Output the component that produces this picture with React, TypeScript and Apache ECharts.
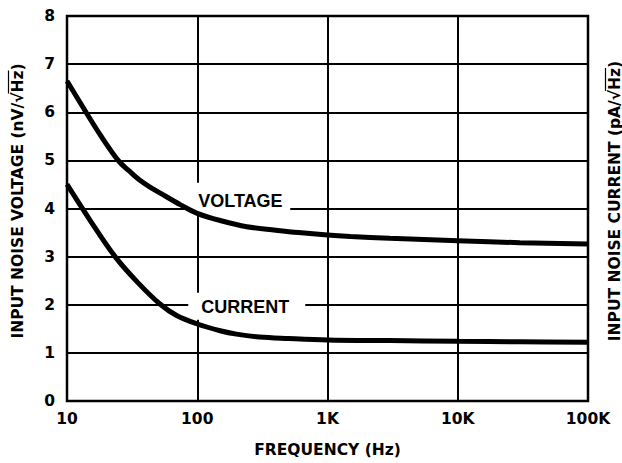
import React, { useEffect, useRef } from "react";
import * as echarts from "echarts";

const frequencies = [10, 14, 18, 24.7, 30, 36.5, 45, 52, 74, 100, 150, 240, 400, 600, 1000, 1500, 3000, 10000, 30000, 100000];
const voltageNoise = [6.65, 6.0, 5.53, 5.0, 4.78, 4.58, 4.42, 4.32, 4.08, 3.9, 3.75, 3.62, 3.55, 3.5, 3.45, 3.42, 3.38, 3.33, 3.29, 3.26];
const currentFreqs = [10, 15, 23.4, 35, 52, 70, 100, 150, 200, 300, 500, 1000, 3000, 10000, 30000, 100000];
const currentNoise = [4.5, 3.76, 3.0, 2.46, 2.01, 1.77, 1.6, 1.46, 1.39, 1.33, 1.3, 1.27, 1.255, 1.24, 1.23, 1.22];
const xTickLabels: Record<string, string> = { "10": "10", "100": "100", "1000": "1K", "10000": "10K", "100000": "100K" };

const leftTitlePrefix = "INPUT NOISE VOLTAGE (nV/\u221A";
const rightTitlePrefix = "INPUT NOISE CURRENT (pA/\u221A";
const titleRoot = "Hz";
const titleSuffix = ")";

const ARIAL = '"Liberation Sans", Arial, sans-serif';
const DEJAVU = '"DejaVu Sans", Verdana, sans-serif';
const AXIS_FS = 15.5;

export default function App() {
  const ref = useRef<HTMLDivElement>(null);
  useEffect(() => {
    if (!ref.current) return;
    const chart = echarts.init(ref.current, null, { renderer: "svg" });
    const gridLine = { color: "#000", width: 2 };
    chart.setOption({
      animation: false,
      backgroundColor: "#fff",
      textStyle: { fontFamily: DEJAVU },
      grid: { left: 67, right: 34, top: 16, bottom: 56, show: true, borderColor: "#000", borderWidth: 2.5, containLabel: false },
      xAxis: {
        type: "log",
        logBase: 10,
        min: 10,
        max: 100000,
        axisLine: { show: false },
        axisTick: { show: false },
        splitLine: { show: true, lineStyle: gridLine },
        axisLabel: {
          color: "#000",
          fontSize: AXIS_FS,
          fontWeight: "bold",
          fontFamily: DEJAVU,
          margin: 10,
          formatter: (v: number) => xTickLabels[String(Math.round(v))] ?? "",
        },
        name: "FREQUENCY (Hz)",
        nameLocation: "middle",
        nameGap: 41,
        nameTextStyle: { color: "#000", fontSize: AXIS_FS, fontWeight: "bold", fontFamily: DEJAVU },
      },
      yAxis: {
        type: "value",
        min: 0,
        max: 8,
        interval: 1,
        axisLine: { show: false },
        axisTick: { show: false },
        splitLine: { show: true, lineStyle: gridLine },
        axisLabel: { color: "#000", fontSize: AXIS_FS, fontWeight: "bold", fontFamily: DEJAVU, margin: 12 },
      },
      series: [
        {
          name: "Voltage",
          type: "line",
          z: 2,
          smooth: 0.35,
          symbol: "none",
          lineStyle: { color: "#000", width: 5 },
          data: frequencies.map((f, i) => [f, voltageNoise[i]]),
        },
        {
          name: "Current",
          type: "line",
          z: 2,
          smooth: 0.35,
          symbol: "none",
          lineStyle: { color: "#000", width: 5 },
          data: currentFreqs.map((f, i) => [f, currentNoise[i]]),
        },
      ],
    });

    const ctx = document.createElement("canvas").getContext("2d")!;
    ctx.font = `bold ${AXIS_FS}px ${DEJAVU}`;
    const w = (s: string) => ctx.measureText(s).width;

    const titleGraphics = (prefix: string, cx: number, cy: number, id: string) => {
      const full = prefix + titleRoot + titleSuffix;
      const W = w(full);
      const start = cy + W / 2;
      const a = start - w(prefix) + 1;
      const b = start - w(prefix + titleRoot);
      const ox = cx - 9;
      return [
        {
          id: id + "-t",
          type: "text",
          x: cx,
          y: cy,
          rotation: Math.PI / 2,
          style: { text: full, font: `bold ${AXIS_FS}px ${DEJAVU}`, fill: "#000", align: "center", verticalAlign: "middle" },
        },
        {
          id: id + "-o",
          type: "line",
          shape: { x1: ox, y1: a, x2: ox, y2: b },
          style: { stroke: "#000", lineWidth: 1.2 },
        },
      ];
    };

    const vPt = chart.convertToPixel({ xAxisIndex: 0, yAxisIndex: 0 }, [100, 4.16]) as number[];
    const cPt = chart.convertToPixel({ xAxisIndex: 0, yAxisIndex: 0 }, [100, 1.98]) as number[];

    chart.setOption({
      graphic: [
        { id: "vbox", type: "rect", z: 1, shape: { x: vPt[0] - 7, y: vPt[1] - 18, width: 100, height: 30 }, style: { fill: "#fff" } },
        { id: "cbox", type: "rect", z: 1, shape: { x: cPt[0] - 9, y: cPt[1] - 13, width: 117, height: 27 }, style: { fill: "#fff" } },
        {
          id: "vtext",
          type: "text",
          z: 3,
          style: { x: vPt[0] + 1, y: vPt[1], text: "VOLTAGE", fill: "#000", font: `bold 18px ${ARIAL}`, align: "left", verticalAlign: "middle" },
        },
        {
          id: "ctext",
          type: "text",
          z: 3,
          style: { x: cPt[0] + 4, y: cPt[1] + 1, text: "CURRENT", fill: "#000", font: `bold 18px ${ARIAL}`, align: "left", verticalAlign: "middle" },
        },
        ...titleGraphics(leftTitlePrefix, 17.5, 201, "lt"),
        ...titleGraphics(rightTitlePrefix, 614.5, 201, "rt"),
      ],
    });
    return () => chart.dispose();
  }, []);
  return <div ref={ref} style={{ position: "fixed", left: 0, top: 0, width: 622, height: 463 }} />;
}
